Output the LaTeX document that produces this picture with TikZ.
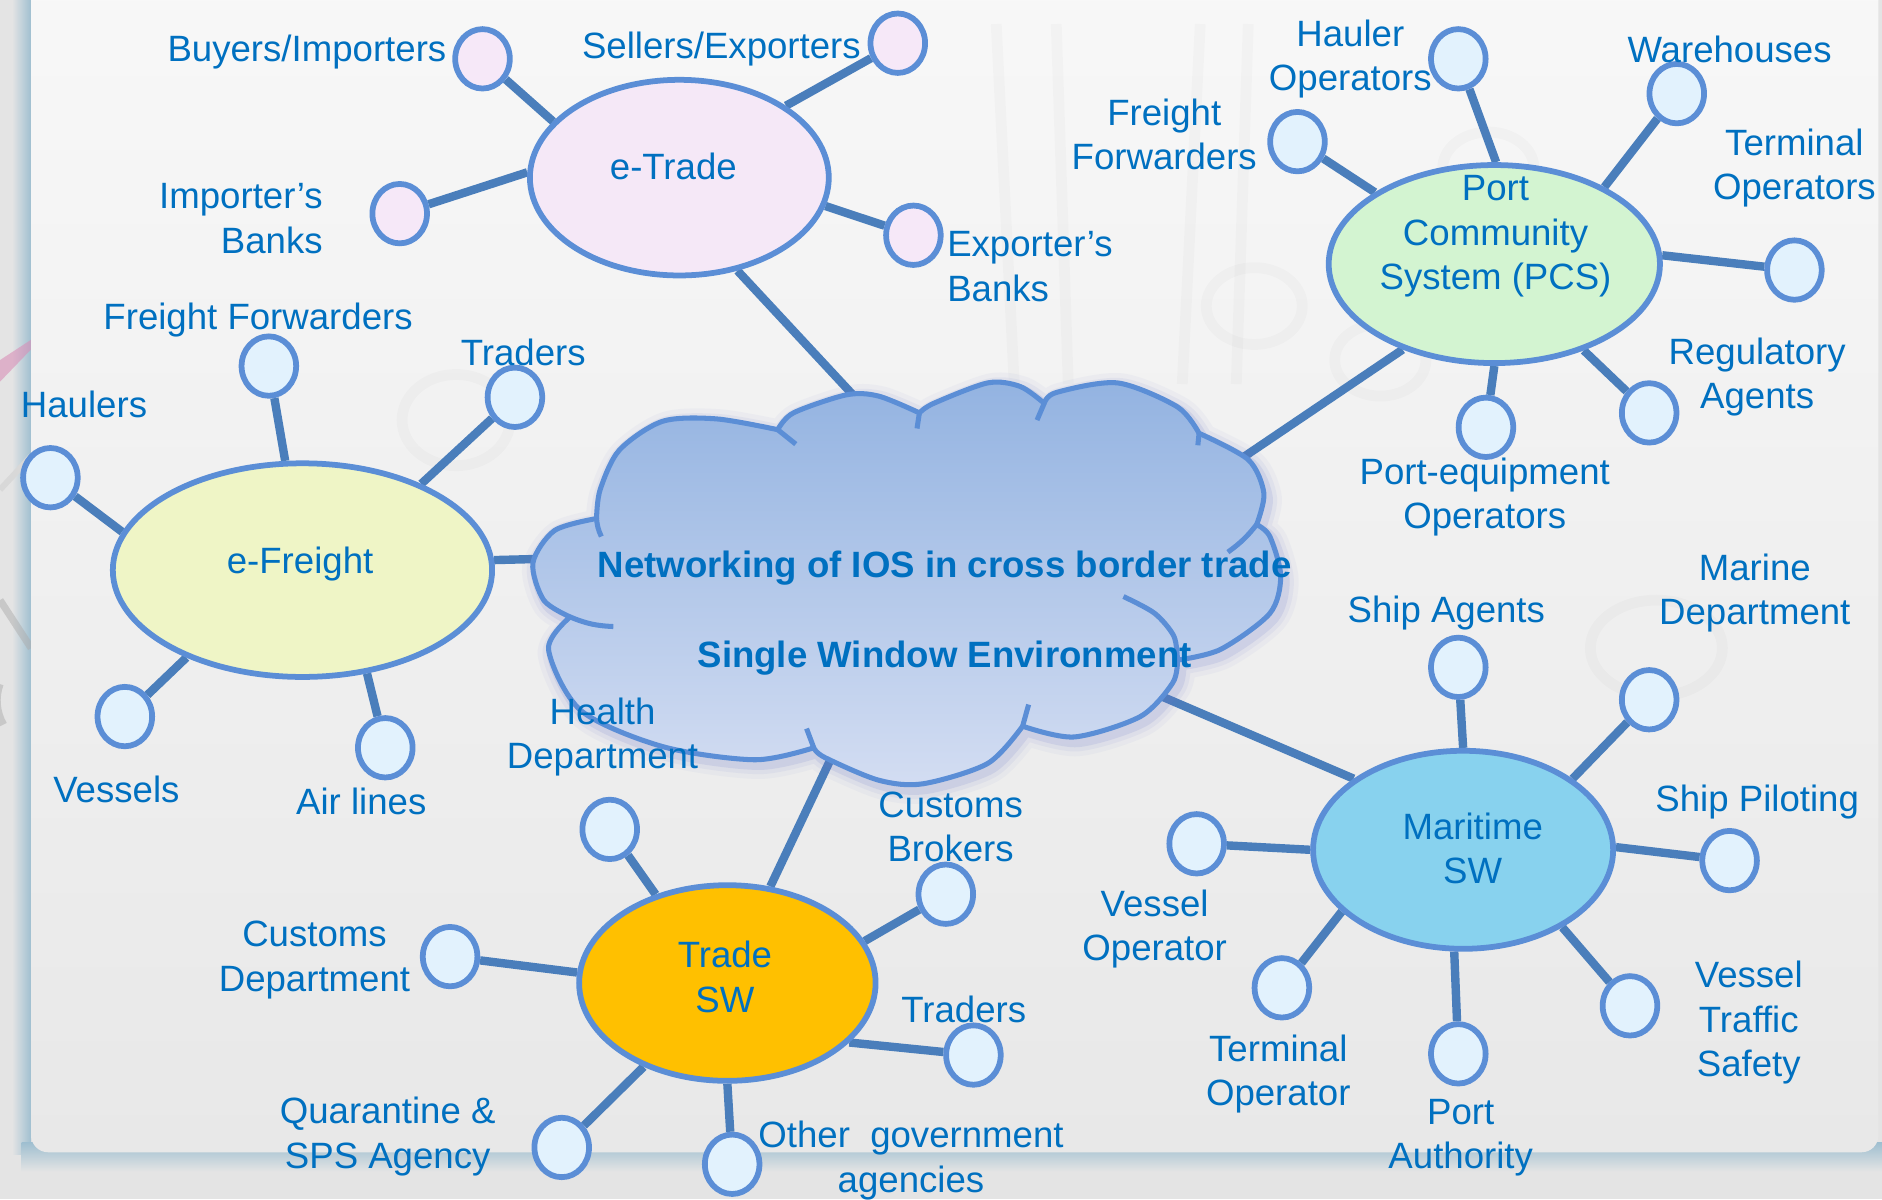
\documentclass[tikz,border=0pt]{standalone}
\usepackage{fontspec}
\setmainfont{Liberation Sans}
\usetikzlibrary{shapes.geometric}
\pgfdeclarelayer{bg}
\pgfdeclarelayer{conn}
\pgfsetlayers{bg,conn,main}
\definecolor{outerg}{HTML}{E4E4E4}
\definecolor{panelt}{HTML}{F8F8F8}
\definecolor{panelb}{HTML}{E8E8E8}
\definecolor{shadowc}{HTML}{9FBFD0}
\definecolor{txtb}{HTML}{0070C0}
\definecolor{outl}{HTML}{5B8ED6}
\definecolor{linkc}{HTML}{4A7EBB}
\definecolor{leafb}{HTML}{E2F2FD}
\definecolor{leafpk}{HTML}{F6E8F8}
\definecolor{etradec}{HTML}{F5E8F7}
\definecolor{efreightc}{HTML}{EFF5C6}
\definecolor{pcsc}{HTML}{D3F4D1}
\definecolor{tswc}{HTML}{FFC000}
\definecolor{mswc}{HTML}{88D2EE}
\definecolor{cloudt}{HTML}{93B3E1}
\definecolor{cloudb}{HTML}{D3DDF2}
\definecolor{glowc}{HTML}{6A78C8}
\definecolor{decog}{HTML}{D8D8D8}
\definecolor{decop}{HTML}{D98FB8}
\def\cloudpath{plot[smooth] coordinates {(497,432) (500,408) (516,375) (552,351) (597,349) (648,358)}
 -- plot[smooth] coordinates {(648,358) (661,344) (705,329) (732,330) (766,344)}
 -- plot[smooth] coordinates {(766,344) (778,336) (823,319) (850,322) (870,336)}
 -- plot[smooth] coordinates {(870,336) (880,327) (931,319) (981,339) (999,361)}
 -- plot[smooth] coordinates {(999,361) (1040,383) (1053,411) (1047,437)}
 -- plot[smooth] coordinates {(1047,437) (1058,447) (1067,480) (1058,511) (1017,541) (981,550)}
 -- plot[smooth] coordinates {(981,550) (977,569) (950,597) (895,614) (852,605)}
 -- plot[smooth] coordinates {(852,605) (823,636) (769,653) (732,650) (687,631) (678,623)}
 -- plot[smooth] coordinates {(678,623) (629,633) (552,622) (484,592) (457,541) (475,514)}
 -- plot[smooth] coordinates {(475,514) (453,500) (444,469) (462,442) (497,432)}
 -- cycle}
\tikzset{
  hub/.style={ellipse, draw=outl, line width=4.8pt, inner sep=0pt},
  leaf/.style={ellipse, draw=outl, line width=4.8pt, fill=leafb, minimum width=45.5pt, minimum height=49.5pt, inner sep=0pt},
  leafpink/.style={leaf, fill=leafpk},
  lbl/.style={text=txtb, font=\fontsize{30.5}{37}\selectfont, align=center, inner sep=0pt, yshift=-3pt},
  lblbold/.style={text=txtb, font=\fontsize{30.5}{37}\selectfont\bfseries, align=center, inner sep=0pt, yshift=-2pt},
  link/.style={draw=linkc, line width=7pt},
  cloudline/.style={draw=outl, line width=4.2pt},
}
\begin{document}
\begin{tikzpicture}[x=1pt,y=-1pt]
\useasboundingbox (0,0) rectangle (1568,999);
% ---------- background ----------
\begin{pgfonlayer}{bg}
\fill[outerg] (0,0) rectangle (1568,999);
\shade[left color=outerg, right color=shadowc] (10,-5) rectangle (26,962);
\shade[top color=shadowc, bottom color=outerg] (18,952) rectangle (1568,976);
\fill[decop, opacity=0.6] (0,300) -- (26,283) -- (26,291) -- (0,318) -- cycle;
\draw[decog, line width=5pt] (0,408) -- (26,380);
\draw[decog!80!black, opacity=0.5, line width=6pt] (0,500) -- (26,540);
\draw[decog!80!black, opacity=0.5, line width=6pt] (0,570) arc[start angle=200, end angle=150, radius=40];
\shade[top color=panelt, bottom color=panelb, rounded corners=14pt] (26,-30) rectangle (1565,960);
% faint decorative rings and lines
\begin{scope}[draw=black, opacity=0.018, line width=9pt]
\draw (380,350) ellipse[x radius=45, y radius=38];
\draw (1045,255) ellipse[x radius=40, y radius=32];
\draw (1380,540) ellipse[x radius=55, y radius=40];
\draw (1150,300) ellipse[x radius=38, y radius=30];
\draw (1240,140) ellipse[x radius=38, y radius=30];
\draw (830,20) -- (845,320);
\draw (880,20) -- (890,320);
\draw (1000,20) -- (985,320);
\draw (1040,20) -- (1030,320);
\end{scope}
\end{pgfonlayer}
% ---------- cloud ----------
\begin{scope}[shift={(3,4)}]
\draw[glowc, line width=24pt, opacity=0.05] \cloudpath;
\draw[glowc, line width=16pt, opacity=0.08] \cloudpath;
\draw[glowc, line width=9pt, opacity=0.14] \cloudpath;
\end{scope}
\shade[top color=cloudt, bottom color=cloudb] \cloudpath;
\draw[cloudline, line join=round] \cloudpath;
\draw[cloudline] (497,432) to[bend right=10] (501,447);
\draw[cloudline] (648,358) -- (663,370);
\draw[cloudline] (766,344) -- (764,357);
\draw[cloudline] (870,336) -- (864,350);
\draw[cloudline] (999,361) -- (998,371);
\draw[cloudline] (1047,437) to[bend left=8] (1023,460);
\draw[cloudline] plot[smooth] coordinates {(936,497) (962,511) (978,530) (981,550)};
\draw[cloudline] (852,605) -- (857,587);
\draw[cloudline] (678,623) -- (672,607);
\draw[cloudline] (475,514) to[bend right=10] (511,522);
\coordinate (cT) at (732,352);
\coordinate (cF) at (475,465);
\coordinate (cP) at (1018,393);
\coordinate (cM) at (958,576);
\coordinate (cS) at (698,620);
\node[lblbold] (net) at (787,471) {Networking of IOS in cross border trade};
\node[lblbold] (sw) at (787,546) {Single Window Environment};
% ---------- hubs ----------
\node[hub, fill=etradec, minimum width=249pt, minimum height=163pt] (etrade) at (566,148) {};
\node[hub, fill=efreightc, minimum width=316pt, minimum height=178pt] (efreight) at (252,475) {};
\node[hub, fill=pcsc, minimum width=276pt, minimum height=165pt] (pcs) at (1245,220) {};
\node[hub, fill=tswc, minimum width=247pt, minimum height=163pt] (tsw) at (606,819) {};
\node[hub, fill=mswc, minimum width=250pt, minimum height=165pt] (msw) at (1219,708) {};
\node[lbl] (tetrade) at (561,136) {e-Trade};
\node[lbl] (tefreight) at (250,467) {e-Freight};
\node[lbl] (tpcs) at (1246,194) {Port\\Community\\System (PCS)};
\node[lbl] (ttsw) at (604,811) {Trade\\SW};
\node[lbl] (tmsw) at (1227,704) {Maritime\\SW};
% ---------- leaves ----------
\node[leafpink] (buy) at (402,49) {};
\node[leafpink] (sel) at (748,36) {};
\node[leafpink] (ibk) at (333,178) {};
\node[leafpink] (ebk) at (761,196) {};
\node[leaf] (eff) at (224,305) {};
\node[leaf] (etr) at (429,331) {};
\node[leaf] (hau) at (42,398) {};
\node[leaf] (ves) at (104,597) {};
\node[leaf] (air) at (321,623) {};
\node[leaf] (hop) at (1215,49) {};
\node[leaf] (pff) at (1081,118) {};
\node[leaf] (war) at (1397,78) {};
\node[leaf] (top) at (1495,225) {};
\node[leaf] (reg) at (1374,344) {};
\node[leaf] (peq) at (1238,356) {};
\node[leaf] (sag) at (1215,556) {};
\node[leaf] (mar) at (1374,583) {};
\node[leaf] (spi) at (1441,717) {};
\node[leaf] (vts) at (1358,838) {};
\node[leaf] (pau) at (1215,878) {};
\node[leaf] (tmo) at (1068,823) {};
\node[leaf] (vop) at (997,703) {};
\node[leaf] (hea) at (508,691) {};
\node[leaf] (cbr) at (788,745) {};
\node[leaf] (cde) at (375,797) {};
\node[leaf] (ttr) at (811,879) {};
\node[leaf] (qua) at (468,956) {};
\node[leaf] (oga) at (610,970) {};
% ---------- labels ----------
\node[lbl, anchor=east, align=right] (lbuy) at (372,40) {Buyers/Importers};
\node[lbl] (lsel) at (601,38) {Sellers/Exporters};
\node[lbl, anchor=east, align=right] (libk) at (269,179) {Importer’s\\Banks};
\node[lbl, anchor=west, align=left] (lebk) at (789,219) {Exporter’s\\Banks};
\node[lbl] (leff) at (215,264) {Freight Forwarders};
\node[lbl] (letr) at (436,291) {Traders};
\node[lbl] (lhau) at (70,334) {Haulers};
\node[lbl] (lves) at (97,655) {Vessels};
\node[lbl] (lair) at (301,665) {Air lines};
\node[lbl] (lhop) at (1125,46) {Hauler\\Operators};
\node[lbl] (lpff) at (970,109) {Freight\\Forwarders};
\node[lbl] (lwar) at (1441,38) {Warehouses};
\node[lbl] (ltop) at (1495,137) {Terminal\\Operators};
\node[lbl] (lreg) at (1464,311) {Regulatory\\Agents};
\node[lbl] (lpeq) at (1237,411) {Port-equipment\\Operators};
\node[lbl] (lsag) at (1205,508) {Ship Agents};
\node[lbl] (lmar) at (1462,491) {Marine\\Department};
\node[lbl] (lspi) at (1464,665) {Ship Piloting};
\node[lbl] (lvts) at (1457,849) {Vessel\\Traffic\\Safety};
\node[lbl] (lpau) at (1217,945) {Port\\Authority};
\node[lbl] (ltmo) at (1065,892) {Terminal\\Operator};
\node[lbl] (lvop) at (962,771) {Vessel\\Operator};
\node[lbl] (lhea) at (502,611) {Health\\Department};
\node[lbl] (lcbr) at (792,686) {Customs\\Brokers};
\node[lbl] (lcde) at (262,797) {Customs\\Department};
\node[lbl] (lttr) at (803,838) {Traders};
\node[lbl] (lqua) at (323,944) {Quarantine \&\\SPS Agency};
\node[lbl] (loga) at (759,964) {Other\ \ government\\agencies};
% ---------- connectors ----------
\begin{pgfonlayer}{conn}
\draw[link] (buy) -- (etrade.156);
\draw[link] (sel) -- (etrade.34);
\draw[link] (ibk) -- (etrade.178);
\draw[link] (ebk) -- (etrade.349);
\draw[link] (etrade.302) -- (cT);
\draw[link] (eff) -- (efreight.99);
\draw[link] (etr) -- (efreight.36);
\draw[link] (hau) -- (efreight.168);
\draw[link] (ves) -- (efreight.217);
\draw[link] (air) -- (efreight.302);
\draw[link] (efreight.3) -- (cF);
\draw[link] (hop) -- (pcs.89);
\draw[link] (pff) -- (pcs.149);
\draw[link] (war) -- (pcs.35);
\draw[link] (top) -- (pcs.3);
\draw[link] (reg) -- (pcs.316);
\draw[link] (peq) -- (pcs.270);
\draw[link] (pcs.223) -- (cP);
\draw[link] (sag) -- (msw.90);
\draw[link] (mar) -- (msw.33);
\draw[link] (spi) -- (msw.1);
\draw[link] (vts) -- (msw.322);
\draw[link] (pau) -- (msw.265);
\draw[link] (tmo) -- (msw.207);
\draw[link] (vop) -- (msw.180);
\draw[link] (msw.147) -- (cM);
\draw[link] (hea) -- (tsw.129);
\draw[link] (cbr) -- (tsw.17);
\draw[link] (cde) -- (tsw.176);
\draw[link] (ttr) -- (tsw.334);
\draw[link] (qua) -- (tsw.225);
\draw[link] (oga) -- (tsw.270);
\draw[link] (tsw.66) -- (cS);
\end{pgfonlayer}
\end{tikzpicture}
\end{document}
